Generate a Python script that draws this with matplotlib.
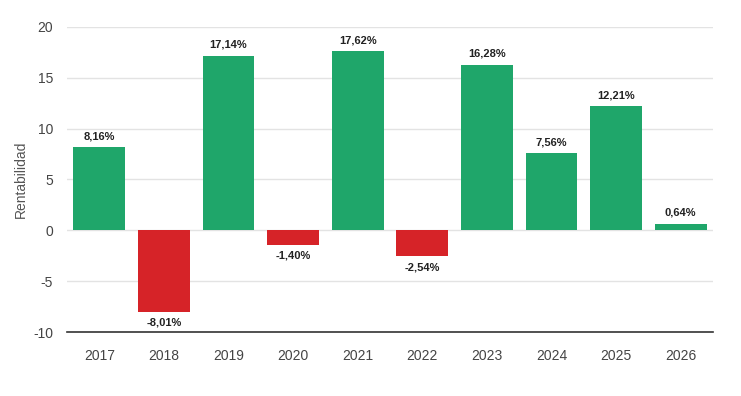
import matplotlib.pyplot as plt

plt.rcParams['font.family'] = ['Liberation Sans', 'DejaVu Sans']
plt.rcParams['axes.unicode_minus'] = False

years = ['2017', '2018', '2019', '2020', '2021', '2022', '2023', '2024', '2025', '2026']
returns = [8.16, -8.01, 17.14, -1.40, 17.62, -2.54, 16.28, 7.56, 12.21, 0.64]

green = '#1fa66a'
red = '#d62328'
colors = [green if v >= 0 else red for v in returns]

fig = plt.figure(figsize=(7.41, 3.96), dpi=100)
ax = fig.add_axes([0.0904, 0.1616, 0.8718, 0.7704])

x = range(len(years))
bars = ax.bar(x, returns, width=0.8, color=colors, zorder=3)

for xi, v in zip(x, returns):
    label = f'{v:.2f}%'.replace('.', ',')
    if v >= 0:
        ax.text(xi, v + 0.6, label, ha='center', va='bottom', fontsize=8,
                fontweight='bold', color='#222222')
    else:
        ax.text(xi, v - 0.6, label, ha='center', va='top', fontsize=8,
                fontweight='bold', color='#222222')

ax.set_ylim(-10, 20)
ax.set_xlim(-0.5, len(years) - 0.5)
ax.set_yticks([-10, -5, 0, 5, 10, 15, 20])
ax.set_xticks(list(x))
ax.set_xticklabels(years)
ax.tick_params(axis='both', length=0, labelsize=10, colors='#444444')
ax.tick_params(axis='x', pad=12)
ax.tick_params(axis='y', pad=10)
ax.grid(axis='y', color='#e3e3e3', linewidth=1, zorder=0)

for side in ['top', 'right', 'left']:
    ax.spines[side].set_visible(False)
ax.spines['bottom'].set_color('#333333')
ax.spines['bottom'].set_linewidth(1.2)

ax.set_ylabel('Rentabilidad', fontsize=10, color='#555555', labelpad=4)

fig.savefig('out.png', dpi=100)
